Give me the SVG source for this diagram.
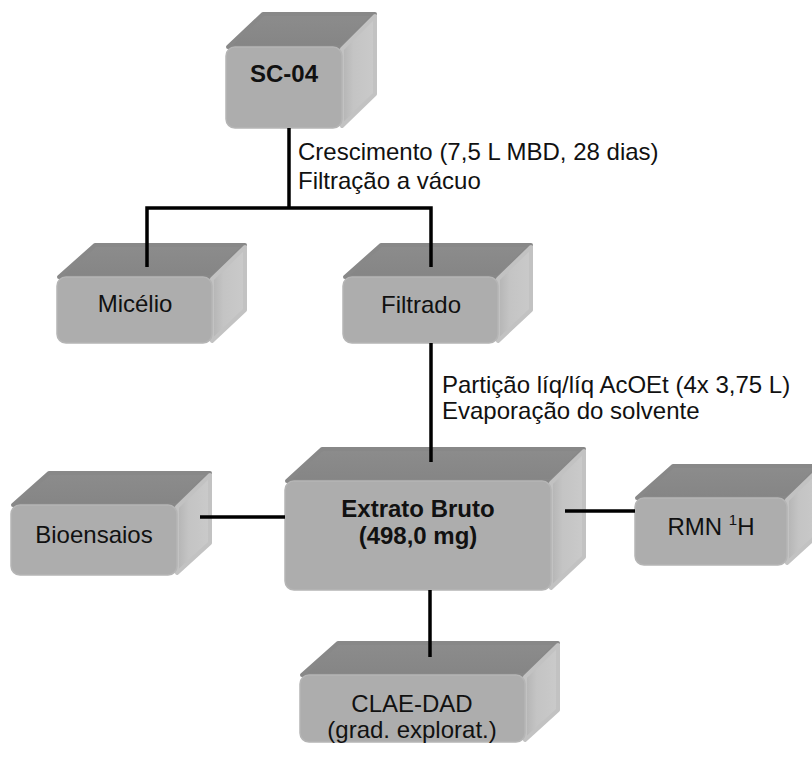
<svg xmlns="http://www.w3.org/2000/svg" width="812" height="760" viewBox="0 0 812 760">
  <defs>
    <linearGradient id="sideGrad" x1="0" y1="0" x2="1" y2="0">
      <stop offset="0" stop-color="#b4b4b4"/>
      <stop offset="0.35" stop-color="#c4c4c4"/>
      <stop offset="1" stop-color="#cacaca"/>
    </linearGradient>
    <linearGradient id="topGrad" x1="0" y1="0" x2="0" y2="1">
      <stop offset="0" stop-color="#8c8c8c"/>
      <stop offset="1" stop-color="#858585"/>
    </linearGradient>
  </defs>
  <style>
    .top{fill:url(#topGrad);stroke:#888;stroke-width:4;stroke-linejoin:round}
    .side{fill:url(#sideGrad);stroke:#c2c2c2;stroke-width:4;stroke-linejoin:round}
    .front{fill:#adadad;stroke:#b5b5b5;stroke-width:1.5}
    .lbl{font-family:"Liberation Sans",Arial,sans-serif;font-size:24px;fill:#111;text-anchor:middle}
    .b{font-weight:bold}
    .note{font-family:"Liberation Sans",Arial,sans-serif;font-size:24px;fill:#111}
    .wire{stroke:#000;stroke-width:3.5;fill:none;stroke-linecap:butt}
  </style>
  <rect width="812" height="760" fill="#fff"/>

  <!-- SC-04 -->
  <g id="sc04">
    <polygon class="top" points="228,47 263,14 375,14 342,47"/>
    <polygon class="side" points="342,49 375,16 375,94 342,126"/>
    <rect class="front" x="226" y="47" width="116" height="81" rx="9"/>
    <text class="lbl b" x="284" y="82">SC-04</text>
  </g>

  <!-- Micélio -->
  <g id="micelio">
    <polygon class="top" points="59,277 95,245 245,245 212,277"/>
    <polygon class="side" points="212,279 245,247 245,310 212,341"/>
    <rect class="front" x="57" y="277" width="155" height="66" rx="9"/>
    <text class="lbl" x="135" y="312">Micélio</text>
  </g>

  <!-- Filtrado -->
  <g id="filtrado">
    <polygon class="top" points="345,277 381,245 531,245 498,277"/>
    <polygon class="side" points="498,279 531,247 531,310 498,341"/>
    <rect class="front" x="343" y="277" width="155" height="66" rx="9"/>
    <text class="lbl" x="421" y="313">Filtrado</text>
  </g>

  <!-- Extrato Bruto -->
  <g id="extrato">
    <polygon class="top" points="287,481 322,449 584,449 551,481"/>
    <polygon class="side" points="551,483 584,451 584,557 551,588"/>
    <rect class="front" x="285" y="481" width="266" height="109" rx="9"/>
    <text class="lbl b" x="418" y="517">Extrato Bruto</text>
    <text class="lbl b" x="418" y="544">(498,0 mg)</text>
  </g>

  <!-- Bioensaios -->
  <g id="bioensaios">
    <polygon class="top" points="13,505 49,473 210,473 177,505"/>
    <polygon class="side" points="177,507 210,475 210,543 177,573"/>
    <rect class="front" x="11" y="505" width="166" height="70" rx="9"/>
    <text class="lbl" x="94" y="543">Bioensaios</text>
  </g>

  <!-- RMN 1H -->
  <g id="rmn">
    <polygon class="top" points="637,498 673,466 820,466 787,498"/>
    <polygon class="side" points="787,500 820,468 820,533 787,563"/>
    <rect class="front" x="635" y="498" width="152" height="67" rx="9"/>
    <text class="lbl" x="711" y="535">RMN <tspan font-size="15" dy="-10">1</tspan><tspan dy="10">H</tspan></text>
  </g>

  <!-- CLAE-DAD -->
  <g id="clae">
    <polygon class="top" points="302,675 338,643 558,643 525,675"/>
    <polygon class="side" points="525,677 558,645 558,710 525,740"/>
    <rect class="front" x="300" y="675" width="225" height="67" rx="9"/>
    <text class="lbl" x="412" y="712">CLAE-DAD</text>
    <text class="lbl" x="412" y="738">(grad. explorat.)</text>
  </g>

  <!-- connectors -->
  <g id="connectors">
    <path class="wire" d="M289,128 V208"/>
    <path class="wire" d="M147,267 V208 H431 V267"/>
    <path class="wire" d="M431,343 V462"/>
    <path class="wire" d="M200,517 H285"/>
    <path class="wire" d="M565,511 H635"/>
    <path class="wire" d="M430,590 V657"/>
  </g>

  <!-- process notes -->
  <g id="notes">
    <text class="note" x="298" y="160">Crescimento (7,5 L MBD, 28 dias)</text>
    <text class="note" x="298" y="189">Filtração a vácuo</text>
    <text class="note" x="442" y="393">Partição líq/líq AcOEt (4x 3,75 L)</text>
    <text class="note" x="442" y="419">Evaporação do solvente</text>
  </g>
</svg>
